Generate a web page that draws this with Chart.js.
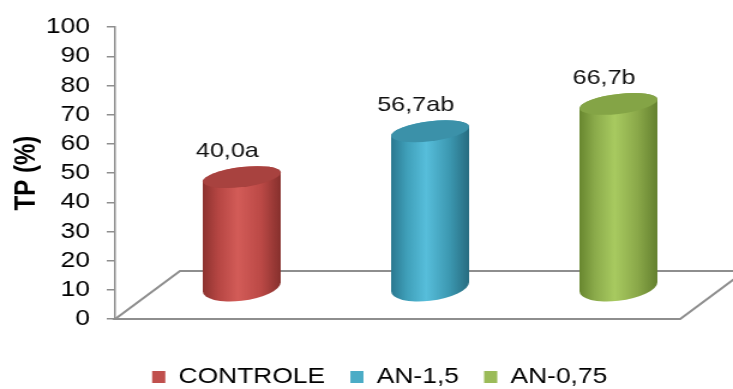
<!DOCTYPE html>
<html>
<head>
<meta charset="utf-8">
<script src="https://cdn.jsdelivr.net/npm/chart.js@4.4.1/dist/chart.umd.min.js"></script>
<style>
  html, body { margin: 0; padding: 0; background: #fff; overflow: hidden; }
  /* the chart is laid out narrower and widened to the page width */
  #wrap { width: 611px; height: 389px; transform: scale(1.19967, 1); transform-origin: 0 0; }
</style>
</head>
<body>
<div id="wrap"><canvas id="c" width="611" height="389"></canvas></div>
<script>
// Treatments, TP values (%) and the letters of the mean comparison
const categories = ['CONTROLE', 'AN-1,5', 'AN-0,75'];
const tpValues = [40.0, 56.7, 66.7];
const groupLetters = ['a', 'ab', 'b'];
const yMin = 0, yMax = 100, yStep = 10;

// Series colours: legend swatch, cylinder side shading and cap
const swatchColors = ['#C0504D', '#4BACC6', '#9BBB59'];
const sideShades = [
  ['#8d3330', '#b64643', '#d35c58', '#bb4946', '#86302d'],
  ['#2a7890', '#3f9fb9', '#57bedb', '#3c98b1', '#276c80'],
  ['#68872f', '#8bab4b', '#a8ca60', '#8aa849', '#64812f']
];
const capColors = ['#a8423f', '#3b91a9', '#84a446'];

const FONT = "'Liberation Sans', Arial, sans-serif";
Chart.defaults.font.family = FONT;

// Oblique 3D floor depth (px)
const DEPTH_X = 54, DEPTH_Y = 48;

function ellipsePath(ctx, cx, cy, hw, tilt, ry, a0, a1) {
  ctx.save();
  ctx.transform(hw, -tilt, 0, ry, cx, cy);
  ctx.arc(0, 0, 1, a0, a1);
  ctx.restore();
}

const cylinderPlugin = {
  id: 'cylinders',
  beforeDatasetsDraw(chart) {
    const { ctx, chartArea: a, scales: { y } } = chart;
    const y0 = y.getPixelForValue(0);

    // floor
    ctx.save();
    ctx.strokeStyle = '#8e8e8e';
    ctx.lineWidth = 2;
    ctx.beginPath();
    ctx.moveTo(a.left, y0);
    ctx.lineTo(a.left + DEPTH_X, y0 - DEPTH_Y);
    ctx.lineTo(a.right + DEPTH_X, y0 - DEPTH_Y);
    ctx.lineTo(a.right, y0);
    ctx.closePath();
    ctx.stroke();
    ctx.restore();

    chart.data.datasets.forEach((ds, i) => {
      const meta = chart.getDatasetMeta(i);
      const el = meta.data[i];
      const v = tpValues[i];
      const hw = 32.5, tilt = 4.5, ryTop = 10, ryBot = 14;
      const cx = el.x + DEPTH_X / 2;
      const base = y0 - DEPTH_Y * 0.67;
      const top = base - (y0 - y.getPixelForValue(v)) * 0.94;

      // side
      const g = ctx.createLinearGradient(cx - hw, 0, cx + hw, 0);
      const st = sideShades[i];
      [0, 0.2, 0.45, 0.75, 1].forEach((p, k) => g.addColorStop(p, st[k]));
      ctx.save();
      ctx.beginPath();
      ctx.moveTo(cx + hw, top - tilt);
      ctx.lineTo(cx + hw, base - tilt);
      ellipsePath(ctx, cx, base, hw, tilt, ryBot, 0, Math.PI);
      ctx.lineTo(cx - hw, top + tilt);
      ellipsePath(ctx, cx, top, hw, tilt, ryTop, Math.PI, 2 * Math.PI);
      ctx.closePath();
      ctx.fillStyle = g;
      ctx.fill();

      // cap
      ctx.beginPath();
      ellipsePath(ctx, cx, top, hw, tilt, ryTop, 0, 2 * Math.PI);
      ctx.closePath();
      ctx.fillStyle = capColors[i];
      ctx.fill();
      ctx.restore();

      // value label
      ctx.save();
      ctx.font = '21px ' + FONT;
      ctx.fillStyle = '#111';
      ctx.textAlign = 'center';
      ctx.textBaseline = 'middle';
      ctx.fillText(v.toFixed(1).replace('.', ',') + groupLetters[i], cx - 12, top - 26);
      ctx.restore();
    });
    return false;
  }
};

const legendPlacement = {
  id: 'legendPlacement',
  afterLayout(chart) {
    const lg = chart.legend;
    lg.left += 33; lg.right += 33;
    lg.top += 9; lg.bottom += 9;
  }
};

new Chart(document.getElementById('c'), {
  type: 'bar',
  data: {
    labels: categories,
    datasets: categories.map((name, i) => ({
      label: name,
      data: categories.map((_, j) => (j === i ? tpValues[i] : null)),
      backgroundColor: swatchColors[i],
      skipNull: true
    }))
  },
  options: {
    responsive: false,
    animation: false,
    devicePixelRatio: 1,
    layout: { padding: { top: 22, left: 0, right: 44, bottom: 0 } },
    plugins: {
      legend: {
        position: 'bottom',
        labels: { font: { size: 22 }, color: '#000', boxWidth: 11, boxHeight: 12, padding: 21 }
      },
      tooltip: { enabled: false }
    },
    scales: {
      x: {
        grid: { display: false },
        border: { display: false },
        ticks: { display: false },
        afterFit(s) { s.height = 17; }
      },
      y: {
        min: yMin, max: yMax,
        ticks: { stepSize: yStep, autoSkip: false, font: { size: 22 }, color: '#000', padding: 14 },
        grid: { drawOnChartArea: false, tickLength: 7, color: '#8e8e8e', lineWidth: 1.5 },
        border: { color: '#8e8e8e', width: 1.5 },
        title: { display: true, text: 'TP (%)', color: '#000', font: { size: 24, weight: 'bold' }, padding: { top: 7.5, bottom: 0 } },
        afterFit(s) { s.width = 96; }
      }
    }
  },
  plugins: [cylinderPlugin, legendPlacement]
});
</script>
</body>
</html>
